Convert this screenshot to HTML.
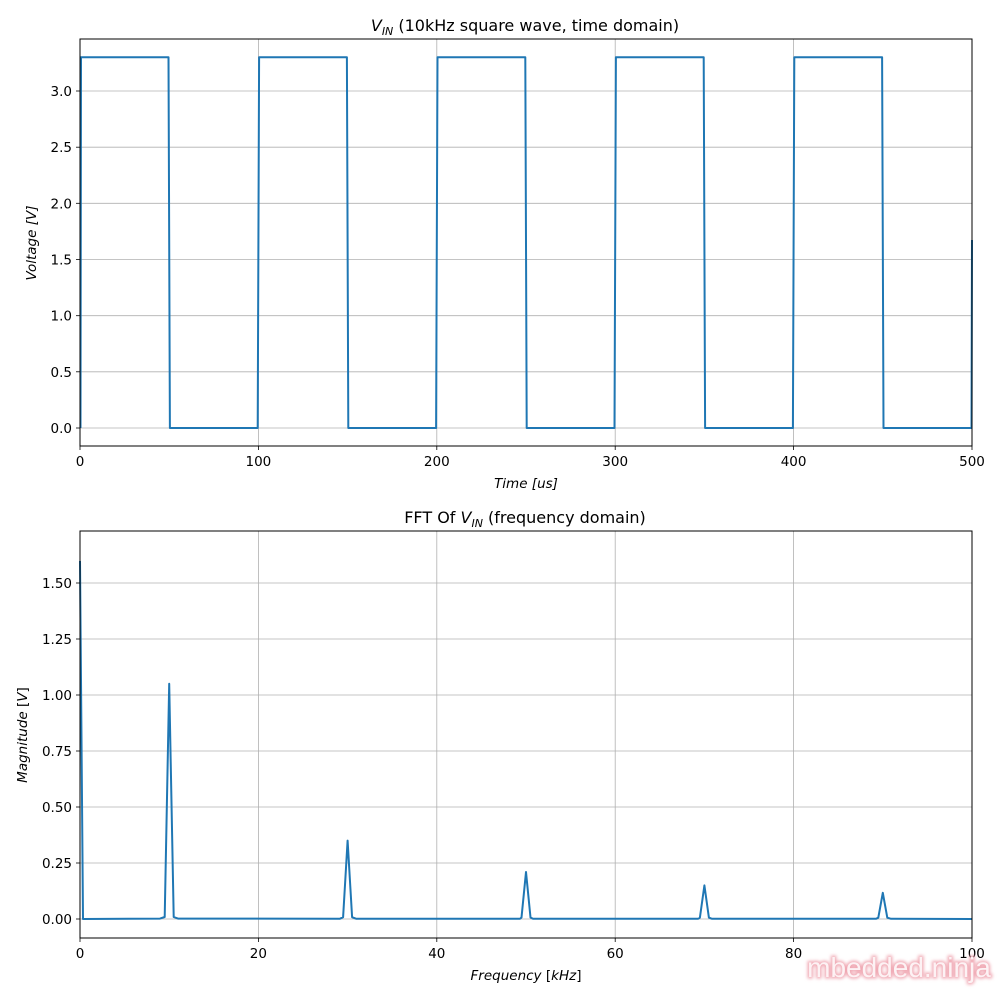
<!DOCTYPE html>
<html><head><meta charset="utf-8"><style>
body{margin:0;background:#fff}
text{font-family:"DejaVu Sans","Liberation Sans",sans-serif;fill:#000}
</style></head><body>
<svg width="1000" height="1000" viewBox="0 0 1000 1000" xmlns="http://www.w3.org/2000/svg">
<defs><filter id="gl" x="-10%" y="-30%" width="120%" height="160%"><feGaussianBlur stdDeviation="1.5"/></filter></defs>
<rect width="1000" height="1000" fill="#fff"/>
<!-- TOP PLOT -->
<g stroke="#b0b0b0" stroke-width="0.8">
<line x1="80" y1="428" x2="972" y2="428"/><line x1="80" y1="371.8" x2="972" y2="371.8"/><line x1="80" y1="315.7" x2="972" y2="315.7"/><line x1="80" y1="259.5" x2="972" y2="259.5"/><line x1="80" y1="203.3" x2="972" y2="203.3"/><line x1="80" y1="147.2" x2="972" y2="147.2"/><line x1="80" y1="91" x2="972" y2="91"/>
<line x1="258.4" y1="39" x2="258.4" y2="446"/><line x1="436.8" y1="39" x2="436.8" y2="446"/><line x1="615.2" y1="39" x2="615.2" y2="446"/><line x1="793.6" y1="39" x2="793.6" y2="446"/>
</g>
<path fill="none" stroke="#1f77b4" stroke-width="2" stroke-linejoin="round" d="M80.5,428 L81,57.3 L168.5,57.3 L169.9,428 L257.7,428 L259.1,57.3 L346.9,57.3 L348.3,428 L436.1,428 L437.5,57.3 L525.3,57.3 L526.7,428 L614.5,428 L615.9,57.3 L703.7,57.3 L705.1,428 L792.9,428 L794.3,57.3 L882.1,57.3 L883.5,428 L971.5,428 L972,240"/>
<rect x="80" y="39" width="892" height="407" fill="none" stroke="#000" stroke-width="1"/>
<g stroke="#000" stroke-width="0.8">
<line x1="76" y1="428" x2="80" y2="428"/><line x1="76" y1="371.8" x2="80" y2="371.8"/><line x1="76" y1="315.7" x2="80" y2="315.7"/><line x1="76" y1="259.5" x2="80" y2="259.5"/><line x1="76" y1="203.3" x2="80" y2="203.3"/><line x1="76" y1="147.2" x2="80" y2="147.2"/><line x1="76" y1="91" x2="80" y2="91"/>
<line x1="80" y1="446" x2="80" y2="450"/><line x1="258.4" y1="446" x2="258.4" y2="450"/><line x1="436.8" y1="446" x2="436.8" y2="450"/><line x1="615.2" y1="446" x2="615.2" y2="450"/><line x1="793.6" y1="446" x2="793.6" y2="450"/><line x1="972" y1="446" x2="972" y2="450"/>
</g>
<g font-size="13.5" text-anchor="end">
<text x="72" y="433">0.0</text><text x="72" y="376.8">0.5</text><text x="72" y="320.7">1.0</text><text x="72" y="264.5">1.5</text><text x="72" y="208.3">2.0</text><text x="72" y="152.2">2.5</text><text x="72" y="96">3.0</text>
</g>
<g font-size="13.5" text-anchor="middle">
<text x="80" y="466">0</text><text x="258.4" y="466">100</text><text x="436.8" y="466">200</text><text x="615.2" y="466">300</text><text x="793.6" y="466">400</text><text x="972" y="466">500</text>
<text x="526" y="488" font-style="italic">Time [us]</text>
<text x="525" y="31" font-size="16"><tspan font-style="italic">V</tspan><tspan font-style="italic" font-size="11" dy="4">IN</tspan><tspan dy="-4"> (10kHz square wave, time domain)</tspan></text>
</g>
<text transform="translate(36,243) rotate(-90)" font-size="13.5" text-anchor="middle" font-style="italic">Voltage [V]</text>

<!-- BOTTOM PLOT -->
<g stroke="#b0b0b0" stroke-width="0.8">
<line x1="80" y1="919" x2="972" y2="919"/><line x1="80" y1="863" x2="972" y2="863"/><line x1="80" y1="807" x2="972" y2="807"/><line x1="80" y1="751" x2="972" y2="751"/><line x1="80" y1="695" x2="972" y2="695"/><line x1="80" y1="639" x2="972" y2="639"/><line x1="80" y1="583" x2="972" y2="583"/>
<line x1="258.4" y1="531" x2="258.4" y2="938"/><line x1="436.8" y1="531" x2="436.8" y2="938"/><line x1="615.2" y1="531" x2="615.2" y2="938"/><line x1="793.6" y1="531" x2="793.6" y2="938"/>
</g>
<path fill="none" stroke="#1f77b4" stroke-width="2" stroke-linejoin="round" d="M80,561 L83,919 L160,918.6 L164.7,917 L169.2,683.8 L173.7,917 L178,918.6 L340,918.7 L343.1,917.2 L347.6,840.6 L352.1,917.2 L356,918.7 L520,918.8 L521.5,917.5 L526,872 L530.5,917.5 L533,918.8 L698,918.8 L699.9,917.6 L704.4,885.4 L708.9,917.6 L712,918.8 L876,918.8 L878.3,917.7 L882.8,892.8 L887.3,917.7 L891,918.8 L972,919"/>
<rect x="80" y="531" width="892" height="407" fill="none" stroke="#000" stroke-width="1"/>
<g stroke="#000" stroke-width="0.8">
<line x1="76" y1="919" x2="80" y2="919"/><line x1="76" y1="863" x2="80" y2="863"/><line x1="76" y1="807" x2="80" y2="807"/><line x1="76" y1="751" x2="80" y2="751"/><line x1="76" y1="695" x2="80" y2="695"/><line x1="76" y1="639" x2="80" y2="639"/><line x1="76" y1="583" x2="80" y2="583"/>
<line x1="80" y1="938" x2="80" y2="942"/><line x1="258.4" y1="938" x2="258.4" y2="942"/><line x1="436.8" y1="938" x2="436.8" y2="942"/><line x1="615.2" y1="938" x2="615.2" y2="942"/><line x1="793.6" y1="938" x2="793.6" y2="942"/><line x1="972" y1="938" x2="972" y2="942"/>
</g>
<g font-size="13.5" text-anchor="end">
<text x="72" y="924">0.00</text><text x="72" y="868">0.25</text><text x="72" y="812">0.50</text><text x="72" y="756">0.75</text><text x="72" y="700">1.00</text><text x="72" y="644">1.25</text><text x="72" y="588">1.50</text>
</g>
<g font-size="13.5" text-anchor="middle">
<text x="80" y="958">0</text><text x="258.4" y="958">20</text><text x="436.8" y="958">40</text><text x="615.2" y="958">60</text><text x="793.6" y="958">80</text><text x="972" y="958">100</text>
<text x="526" y="980"><tspan font-style="italic">Frequency</tspan> [<tspan font-style="italic">kHz</tspan>]</text>
<text x="525" y="523" font-size="16">FFT Of <tspan font-style="italic">V</tspan><tspan font-style="italic" font-size="11" dy="4">IN</tspan><tspan dy="-4"> (frequency domain)</tspan></text>
</g>
<text transform="translate(27,735) rotate(-90)" font-size="13.5" text-anchor="middle"><tspan font-style="italic">Magnitude</tspan> [<tspan font-style="italic">V</tspan>]</text>
<text x="899" y="977" font-size="28" text-anchor="middle" filter="url(#gl)" style="font-family:'Liberation Sans',sans-serif;fill:#f0a8b3;stroke:#f0a8b3;stroke-width:3">mbedded.ninja</text>
<text x="899" y="977" font-size="28" text-anchor="middle" style="font-family:'Liberation Sans',sans-serif;fill:#fdf2f4">mbedded.ninja</text>
</svg>
</body></html>
